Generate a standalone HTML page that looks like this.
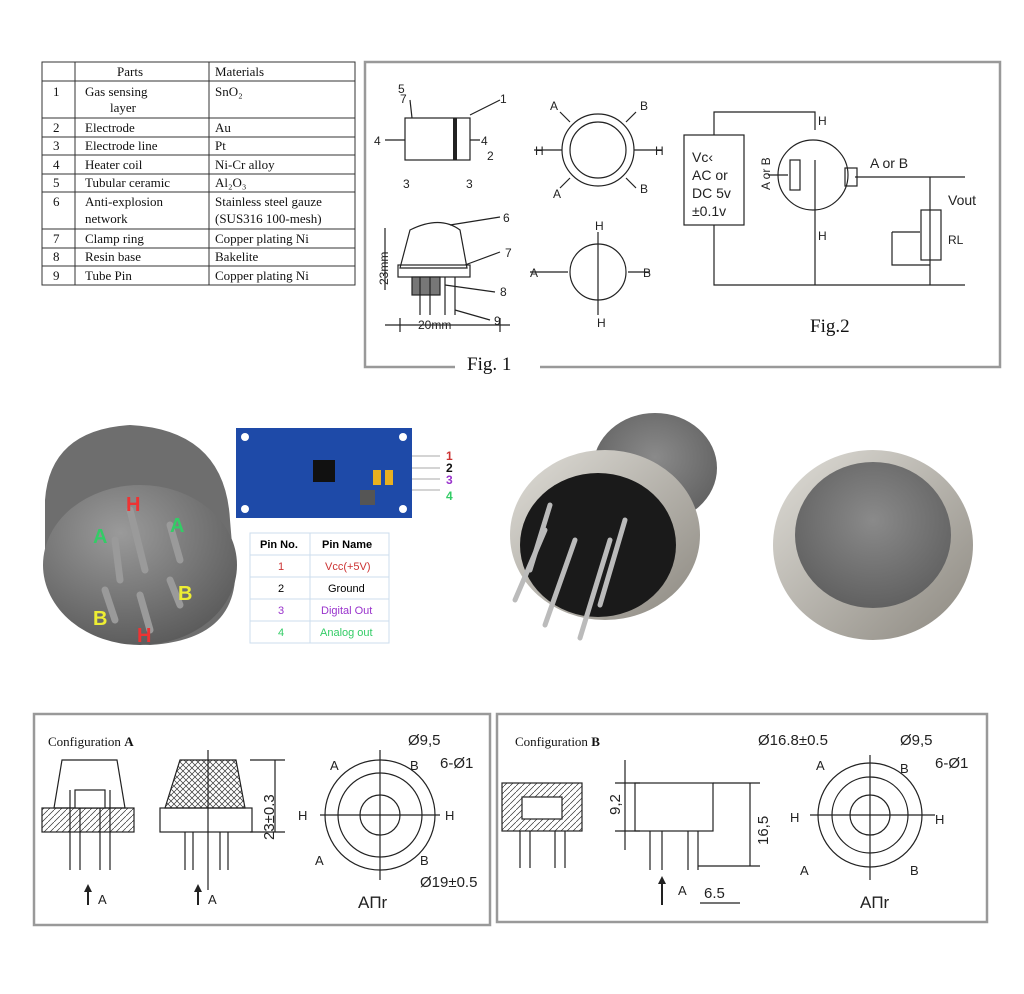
<!DOCTYPE html>
<html><head><meta charset="utf-8"><style>
html,body{margin:0;padding:0;background:#fff;}
svg{display:block;}
.s{font-family:"Liberation Serif",serif;font-size:13px;fill:#111;}
.m{font-family:"Liberation Sans",sans-serif;font-size:13px;fill:#222;}
.k{stroke:#222;stroke-width:1.2;fill:none;}
</style></head><body>
<svg width="1024" height="994" viewBox="0 0 1024 994" xmlns="http://www.w3.org/2000/svg">
<defs>
<radialGradient id="g1" cx="0.4" cy="0.3" r="0.8"><stop offset="0" stop-color="#9a9a9a"/><stop offset="1" stop-color="#555"/></radialGradient>
<radialGradient id="g2" cx="0.5" cy="0.4" r="0.7"><stop offset="0" stop-color="#8a8a8a"/><stop offset="1" stop-color="#5a5a5a"/></radialGradient>
<linearGradient id="g3" x1="0" y1="0" x2="1" y2="1"><stop offset="0" stop-color="#e0ded8"/><stop offset="1" stop-color="#8c8880"/></linearGradient>
<pattern id="hx" width="6" height="6" patternUnits="userSpaceOnUse"><path d="M0 0L6 6M6 0L0 6" stroke="#333" stroke-width="0.7"/></pattern>
<pattern id="hd" width="6" height="6" patternUnits="userSpaceOnUse"><path d="M0 6L6 0" stroke="#333" stroke-width="0.7"/></pattern>
</defs>
<rect width="1024" height="994" fill="#fff"/>
<!-- parts table -->
<g stroke="#333" stroke-width="1" fill="none">
<rect x="42" y="62" width="313" height="223"/>
<line x1="75" y1="62" x2="75" y2="285"/><line x1="209" y1="62" x2="209" y2="285"/>
<line x1="42" y1="81" x2="355" y2="81"/><line x1="42" y1="118" x2="355" y2="118"/>
<line x1="42" y1="137" x2="355" y2="137"/><line x1="42" y1="155" x2="355" y2="155"/>
<line x1="42" y1="174" x2="355" y2="174"/><line x1="42" y1="192" x2="355" y2="192"/>
<line x1="42" y1="229" x2="355" y2="229"/><line x1="42" y1="248" x2="355" y2="248"/>
<line x1="42" y1="266" x2="355" y2="266"/>
</g>
<g class="s">
<text x="117" y="76">Parts</text><text x="215" y="76">Materials</text>
<text x="53" y="96">1</text><text x="85" y="96">Gas sensing</text><text x="110" y="112">layer</text><text x="215" y="96">SnO₂</text>
<text x="53" y="132">2</text><text x="85" y="132">Electrode</text><text x="215" y="132">Au</text>
<text x="53" y="150">3</text><text x="85" y="150">Electrode line</text><text x="215" y="150">Pt</text>
<text x="53" y="169">4</text><text x="85" y="169">Heater coil</text><text x="215" y="169">Ni-Cr alloy</text>
<text x="53" y="187">5</text><text x="85" y="187">Tubular ceramic</text><text x="215" y="187">Al₂O₃</text>
<text x="53" y="206">6</text><text x="85" y="206">Anti-explosion</text><text x="85" y="223">network</text><text x="215" y="206">Stainless steel gauze</text><text x="215" y="223">(SUS316 100-mesh)</text>
<text x="53" y="243">7</text><text x="85" y="243">Clamp    ring</text><text x="215" y="243">Copper    plating Ni</text>
<text x="53" y="261">8</text><text x="85" y="261">Resin    base</text><text x="215" y="261">Bakelite</text>
<text x="53" y="280">9</text><text x="85" y="280">Tube Pin</text><text x="215" y="280">Copper plating Ni</text>
</g>
<!-- Fig box -->
<path d="M455 367 H365 V62 H1000 V367 H540" stroke="#999" stroke-width="2.5" fill="none"/>
<text x="467" y="370" class="s" style="font-size:19px">Fig. 1</text>
<text x="810" y="332" class="s" style="font-size:19px">Fig.2</text>
<g class="k">
<rect x="405" y="118" width="65" height="42"/><line x1="455" y1="118" x2="455" y2="160" stroke-width="4"/>
<path d="M410 100 L412 118 M470 115 L500 100 M385 140 H405 M470 140 H480"/>
<path d="M385 325 H510 M385 228 V290 M400 318 V332 M500 318 V332"/>
<path d="M410 230 Q440 215 460 230 L467 268 H400 Z"/><rect x="398" y="265" width="72" height="12"/>
<rect x="412" y="277" width="28" height="18" fill="#777"/>
<path d="M450 225 L500 217 M465 265 L500 252 M445 285 L495 292 M455 310 L490 320"/>
<line x1="420" y1="277" x2="420" y2="315"/><line x1="430" y1="277" x2="430" y2="315"/><line x1="445" y1="277" x2="445" y2="315"/><line x1="455" y1="277" x2="455" y2="315"/>
<circle cx="598" cy="150" r="36"/><circle cx="598" cy="150" r="28"/>
<path d="M534 150 H562 M634 150 H662 M570 122 L560 112 M626 122 L636 112 M570 178 L560 188 M626 178 L636 188"/>
<circle cx="598" cy="272" r="28"/><path d="M598 232 V315 M530 272 H568 M628 272 H650"/>
<rect x="684" y="135" width="60" height="90"/>
<path d="M714 135 V112 H815 V130 M714 225 V285 H965 M815 160 V285 M855 177 H930 V285 M930 177 H965 M930 177 V210 M892 232 H920 M892 232 V265 H930"/>
<rect x="921" y="210" width="20" height="50"/>
<circle cx="813" cy="175" r="35"/><rect x="790" y="160" width="10" height="30"/><rect x="845" y="168" width="12" height="18"/>
<path d="M768 175 H788"/>
</g>
<g class="m" style="font-size:12px">
<text x="398" y="93">5</text><text x="400" y="103">7</text><text x="500" y="103">1</text><text x="374" y="145">4</text><text x="481" y="145">4</text><text x="487" y="160">2</text><text x="403" y="188">3</text><text x="466" y="188">3</text>
<text x="503" y="222">6</text><text x="505" y="257">7</text><text x="500" y="296">8</text><text x="494" y="325">9</text><text x="418" y="329">20mm</text>
<text x="388" y="285" transform="rotate(-90 388 285)">23mm</text>
<text x="550" y="110">A</text><text x="640" y="110">B</text><text x="535" y="155">H</text><text x="655" y="155">H</text><text x="553" y="198">A</text><text x="640" y="193">B</text>
<text x="595" y="230">H</text><text x="530" y="277">A</text><text x="643" y="277">B</text><text x="597" y="327">H</text>
<text x="692" y="162" style="font-size:14px">Vc‹</text><text x="692" y="180" style="font-size:14px">AC or</text><text x="692" y="198" style="font-size:14px">DC 5v</text><text x="692" y="216" style="font-size:14px">±0.1v</text>
<text x="818" y="125">H</text><text x="818" y="240">H</text><text x="870" y="168" style="font-size:14px">A or B</text><text x="948" y="205" style="font-size:14px">Vout</text><text x="948" y="244">RL</text>
<text x="770" y="190" style="font-size:12px" transform="rotate(-90 770 190)">A or B</text>
</g>
<!-- sensor photo left -->
<path d="M45 500 Q50 430 130 425 Q225 430 230 520 L235 580 Q230 640 150 645 Q70 640 45 580 Z" fill="#6e6e6e"/>
<ellipse cx="140" cy="565" rx="97" ry="80" fill="url(#g1)"/>
<g stroke="#9a9a9a" stroke-width="7" stroke-linecap="round"><line x1="130" y1="510" x2="145" y2="570"/><line x1="115" y1="540" x2="120" y2="580"/><line x1="170" y1="525" x2="180" y2="560"/><line x1="105" y1="590" x2="115" y2="620"/><line x1="140" y1="595" x2="150" y2="630"/><line x1="170" y1="580" x2="180" y2="605"/></g>
<g style="font-family:'Liberation Sans',sans-serif;font-weight:bold;font-size:20px">
<text x="126" y="511" fill="#e33">H</text><text x="93" y="543" fill="#3c6">A</text><text x="170" y="532" fill="#3c6">A</text><text x="93" y="625" fill="#ee3">B</text><text x="178" y="600" fill="#ee3">B</text><text x="137" y="642" fill="#e33">H</text></g>
<!-- blue board -->
<rect x="236" y="428" width="176" height="90" fill="#1e4aa8"/>
<circle cx="245" cy="437" r="4" fill="#fff"/><circle cx="403" cy="437" r="4" fill="#fff"/><circle cx="245" cy="509" r="4" fill="#fff"/><circle cx="403" cy="509" r="4" fill="#fff"/>
<rect x="313" y="460" width="22" height="22" fill="#111"/><rect x="360" y="490" width="15" height="15" fill="#555"/>
<rect x="373" y="470" width="8" height="15" fill="#e8b020"/><rect x="385" y="470" width="8" height="15" fill="#e8b020"/>
<g stroke="#aaa"><line x1="412" y1="456" x2="440" y2="456"/><line x1="412" y1="468" x2="440" y2="468"/><line x1="412" y1="479" x2="440" y2="479"/><line x1="412" y1="490" x2="440" y2="490"/></g>
<g style="font-family:'Liberation Sans',sans-serif;font-weight:bold;font-size:12px"><text x="446" y="460" fill="#c33">1</text><text x="446" y="472" fill="#111">2</text><text x="446" y="484" fill="#93c">3</text><text x="446" y="500" fill="#3c6">4</text></g>
<g stroke="#cde" fill="none"><rect x="250" y="533" width="139" height="110"/><line x1="250" y1="555" x2="389" y2="555"/><line x1="250" y1="577" x2="389" y2="577"/><line x1="250" y1="599" x2="389" y2="599"/><line x1="250" y1="621" x2="389" y2="621"/><line x1="310" y1="533" x2="310" y2="643"/></g>
<g style="font-family:'Liberation Sans',sans-serif;font-size:11px"><text x="260" y="548" font-weight="bold">Pin No.</text><text x="322" y="548" font-weight="bold">Pin Name</text>
<text x="278" y="570" fill="#c33">1</text><text x="325" y="570" fill="#c33">Vcc(+5V)</text><text x="278" y="592">2</text><text x="328" y="592">Ground</text><text x="278" y="614" fill="#93c">3</text><text x="321" y="614" fill="#93c">Digital Out</text><text x="278" y="636" fill="#3c6">4</text><text x="320" y="636" fill="#3c6">Analog out</text></g>
<!-- metal sensors -->
<ellipse cx="655" cy="468" rx="62" ry="55" fill="url(#g2)"/>
<ellipse cx="605" cy="535" rx="95" ry="85" fill="url(#g3)"/>
<ellipse cx="598" cy="545" rx="78" ry="72" fill="#1a1a1a"/>
<g stroke="#bbb" stroke-width="5" stroke-linecap="round"><line x1="545" y1="530" x2="515" y2="600"/><line x1="575" y1="540" x2="545" y2="625"/><line x1="610" y1="540" x2="580" y2="638"/><line x1="625" y1="520" x2="600" y2="605"/><line x1="550" y1="505" x2="530" y2="570"/></g>
<ellipse cx="873" cy="545" rx="100" ry="95" fill="url(#g3)"/>
<ellipse cx="873" cy="535" rx="78" ry="73" fill="url(#g2)"/>
<!-- config A -->
<rect x="34" y="714" width="456" height="211" fill="none" stroke="#999" stroke-width="2.5"/>
<text x="48" y="746" class="s">Configuration <tspan font-weight="bold">A</tspan></text>
<g class="k">
<path d="M62 760 H117 L125 808 H54 Z"/><rect x="42" y="808" width="92" height="24" fill="url(#hd)"/><rect x="75" y="790" width="30" height="18" fill="#fff"/>
<path d="M70 790 V870 M80 808 V870 M100 808 V870 M110 790 V870"/>
<path d="M180 760 H236 L245 808 H165 Z" fill="url(#hx)"/><rect x="160" y="808" width="92" height="24"/>
<path d="M185 832 V870 M193 832 V870 M220 832 V870 M228 832 V870 M208 750 V890 M250 760 H285 M250 832 H285 M275 760 V832"/>
<circle cx="380" cy="815" r="55"/><circle cx="380" cy="815" r="42"/><circle cx="380" cy="815" r="20"/>
<path d="M320 815 H440 M380 750 V880"/>
<path d="M88 905 V890 M198 905 V890" stroke-width="2"/>
</g>
<path d="M84 892 L88 884 L92 892 Z M194 892 L198 884 L202 892 Z" fill="#222"/>
<g class="m"><text x="98" y="904">A</text><text x="208" y="904">A</text><text x="298" y="820">H</text><text x="445" y="820">H</text><text x="330" y="770">A</text><text x="410" y="770">B</text><text x="315" y="865">A</text><text x="420" y="865">B</text>
<text x="408" y="745" style="font-size:15px">Ø9,5</text><text x="440" y="768" style="font-size:15px">6-Ø1</text><text x="420" y="887" style="font-size:15px">Ø19±0.5</text><text x="358" y="908" style="font-size:17px">AПr</text>
<text x="274" y="840" style="font-size:15px" transform="rotate(-90 274 840)">23±0.3</text></g>
<!-- config B -->
<rect x="497" y="714" width="490" height="208" fill="none" stroke="#999" stroke-width="2.5"/>
<text x="515" y="746" class="s">Configuration <tspan font-weight="bold">B</tspan></text>
<g class="k">
<rect x="502" y="783" width="80" height="48" fill="url(#hd)"/><rect x="522" y="797" width="40" height="22" fill="#fff"/>
<path d="M520 831 V868 M530 831 V868 M555 831 V868 M565 831 V868"/>
<rect x="635" y="783" width="78" height="48"/><path d="M650 831 V870 M662 831 V870 M688 831 V870 M698 831 V870 M615 783 H640 M615 831 H640 M625 760 V850 M713 783 H760 M698 866 H760 M750 783 V866 M700 903 H740"/>
<path d="M662 905 V882" stroke-width="2"/>
<circle cx="870" cy="815" r="52"/><circle cx="870" cy="815" r="38"/><circle cx="870" cy="815" r="20"/>
<path d="M810 815 H935 M870 755 V880"/>
</g>
<path d="M658 884 L662 876 L666 884 Z" fill="#222"/>
<g class="m"><text x="678" y="895">A</text><text x="704" y="898" style="font-size:15px">6.5</text><text x="620" y="815" style="font-size:15px" transform="rotate(-90 620 815)">9,2</text><text x="768" y="845" style="font-size:15px" transform="rotate(-90 768 845)">16,5</text>
<text x="758" y="745" style="font-size:15px">Ø16.8±0.5</text><text x="900" y="745" style="font-size:15px">Ø9,5</text><text x="935" y="768" style="font-size:15px">6-Ø1</text>
<text x="816" y="770">A</text><text x="900" y="773">B</text><text x="790" y="822">H</text><text x="935" y="824">H</text><text x="800" y="875">A</text><text x="910" y="875">B</text><text x="860" y="908" style="font-size:17px">AПr</text></g>
</svg>
</body></html>
